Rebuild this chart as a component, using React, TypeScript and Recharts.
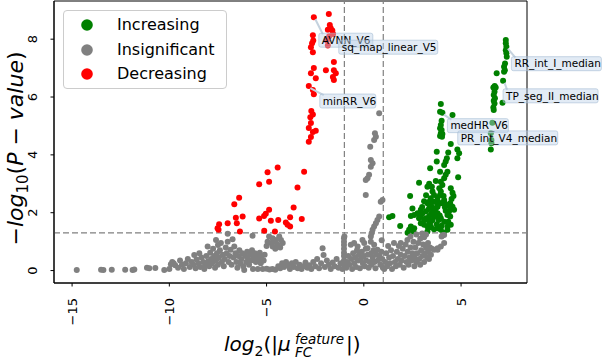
import React from 'react';
import { ScatterChart, Scatter, XAxis, YAxis, ReferenceLine, ReferenceArea, ReferenceDot, Legend } from 'recharts';

// ---------- data (log2 fold change, -log10 p-value) ----------
const increasingPoints: [number, number][] = [
  [7.30,7.97],[7.30,7.86],[7.33,7.74],[7.30,7.62],[7.33,7.51],[7.35,7.39],[7.26,7.16],[7.21,7.05],[7.25,6.93],[7.21,6.87],
  [6.83,6.82],[7.16,6.56],[6.73,6.38],[6.78,6.33],[6.66,6.33],[6.72,6.18],[6.68,6.07],[6.74,5.96],[6.68,5.87],[6.72,5.78],
  [6.66,5.64],[6.68,5.55],[7.13,5.80],[6.61,5.11],[6.53,4.75],[6.56,4.51],[6.56,4.40],[6.53,4.19],
  [3.96,5.76],[3.92,5.49],[4.04,5.46],[4.56,5.38],[4.00,5.18],[3.96,5.03],[3.92,4.92],[4.00,4.86],[3.96,4.75],[3.92,4.65],
  [4.02,4.63],[4.04,4.72],[4.47,4.38],[4.81,4.19],[4.90,4.06],[4.81,3.88],[3.75,4.11],[4.34,4.08],[4.27,3.88],[4.21,3.77],
  [4.13,3.65],[3.75,3.77],[3.41,3.54],[3.92,3.42],[4.30,3.42],[4.21,3.31],[4.13,3.19],[4.85,3.23],[2.84,3.04],[3.36,3.00],
  [3.27,2.90],[3.96,3.07],[4.04,2.96],[3.88,2.85],[3.96,2.73],[3.92,2.61],[3.79,2.53],[4.47,2.85],[4.56,2.69],[4.61,2.58],
  [4.51,2.47],[4.44,2.33],[2.38,2.58],[3.53,2.73],[3.61,2.61],[3.44,2.50],[3.36,2.38],[4.10,2.58],[4.13,2.44],[4.04,2.33],
  [4.17,2.19],[4.21,2.07],[4.30,1.92],[3.79,2.27],[3.70,2.15],[3.58,2.07],[3.48,1.98],[3.36,1.89],[3.27,1.78],[2.50,2.15],
  [2.42,1.89],[2.93,2.10],[3.02,1.98],[2.84,1.81],[3.10,1.75],[4.38,2.04],[4.44,1.87],[4.34,1.69],[4.47,1.58],[1.47,1.89],
  [1.30,1.84],[1.87,1.54],[2.42,1.52],[2.59,1.46],[2.33,1.41],[2.55,1.35],[2.25,1.31],[2.93,1.64],[3.10,1.58],[3.27,1.52],
  [3.44,1.50],[3.61,1.43],[3.79,1.46],[3.96,1.41],[3.36,1.69],[3.53,1.75],[3.19,1.81],[3.70,1.87],[4.30,1.41],[4.10,1.31],
  [3.27,2.33],[3.44,2.27],[3.61,2.38],[3.79,2.21],[3.96,2.33],[4.13,2.38],[4.30,2.27],[4.47,2.15],[4.56,2.21],[4.64,2.10],
  [2.93,1.87],[3.44,1.52],[3.61,1.87],[3.79,1.98],[3.96,1.81],[4.13,1.69],[4.30,1.52],[3.27,1.35],[2.59,1.92],[2.76,1.98],
  [3.10,2.40],[3.20,2.60],[3.50,2.90],[3.70,3.10],[3.80,2.40],[3.65,2.00],[3.90,1.90],[3.50,2.20],[3.00,2.20],[3.20,2.05],
  [3.35,2.15],[3.45,1.70],[3.75,1.60],[4.00,1.55],[3.85,1.75],
];

const insignificantPoints: [number, number][] = [
  [-14.76,0.02],[-13.51,0.03],[-13.39,0.02],[-12.96,0.03],[-12.27,0.03],[-11.89,0.02],[-11.80,0.04],[-11.15,0.10],[-11.03,0.08],
  [-10.72,0.09],[-10.26,0.02],[-9.92,0.22],[-9.78,0.25],
  [-10.00,0.05],[-9.85,0.30],[-9.70,0.18],[-9.55,0.10],[-9.45,0.35],[-9.35,0.20],[-9.25,0.05],[-9.15,0.25],[-9.05,0.40],
  [-8.95,0.12],[-8.85,0.30],[-8.75,0.20],[-8.72,0.54],[-8.65,0.08],[-8.60,0.38],[-8.50,0.25],[-8.46,0.60],[-8.40,0.12],
  [-8.35,0.45],[-8.25,0.30],[-8.20,0.05],[-8.15,0.20],[-8.10,0.50],[-8.03,0.83],[-8.00,0.32],[-7.95,0.15],[-7.90,0.62],
  [-7.85,0.40],[-7.80,0.25],[-7.75,0.75],[-7.70,0.50],[-7.65,0.10],[-7.60,1.06],[-7.60,0.35],[-7.55,0.60],[-7.50,0.88],
  [-7.50,0.20],[-7.45,0.45],[-7.40,0.70],[-7.35,0.95],[-7.30,0.30],[-7.25,0.55],[-7.20,0.15],[-7.15,0.40],[-7.10,0.80],
  [-7.05,0.60],[-7.00,1.27],[-7.00,1.00],[-6.95,0.30],[-6.90,0.50],[-6.85,0.72],[-6.80,0.20],[-6.75,1.08],[-6.70,0.45],
  [-6.66,0.83],[-6.60,0.60],[-6.55,0.30],[-6.50,0.10],[-6.45,0.50],[-6.40,0.70],[-6.35,0.25],[-6.30,0.40],[-6.25,0.60],
  [-6.20,0.15],[-6.15,0.02],[-6.10,0.50],[-6.05,0.30],[-6.00,0.65],[-5.95,0.40],[-5.90,0.20],[-5.85,0.55],[-5.80,0.35],
  [-5.75,0.70],[-5.72,1.20],[-5.70,0.05],[-5.65,0.45],[-5.60,0.60],[-5.55,0.30],[-5.50,0.50],[-5.45,0.05],[-5.40,0.40],
  [-5.35,0.62],[-5.30,0.25],[-5.25,0.50],[-5.20,0.05],[-5.15,0.35],[-5.10,0.55],
  [-4.95,1.00],[-4.87,1.18],[-4.78,0.95],[-4.69,1.12],[-4.69,0.83],[-4.60,1.00],[-4.52,1.06],[-4.43,0.89],[-4.35,1.18],
  [-4.26,1.06],[-4.17,0.95],[-4.30,0.80],[-5.00,0.85],[-4.55,0.75],
  [-5.00,0.06],[-4.85,0.04],[-4.70,0.05],[-4.55,0.03],[-4.40,0.15],[-4.30,0.08],[-4.20,0.25],[-4.10,0.12],[-4.00,0.30],
  [-3.90,0.18],[-3.80,0.05],[-3.70,0.25],[-3.60,0.12],[-3.50,0.30],[-3.40,0.08],[-3.30,0.20],[-3.20,0.05],[-3.10,0.15],
  [-3.00,0.28],[-2.90,0.10],[-2.80,0.18],
  [-2.70,0.05],[-2.60,0.30],[-2.50,0.15],[-2.40,0.40],[-2.30,0.08],[-2.20,0.25],[-2.12,0.77],[-2.07,0.54],[-2.00,0.12],
  [-1.90,0.35],[-1.80,0.20],[-1.70,0.05],[-1.60,0.28],[-1.50,0.15],[-1.40,0.40],[-1.30,0.10],[-1.20,0.25],[-1.10,0.05],
  [-1.02,0.20],[-1.02,0.35],[-1.02,0.50],[-1.02,0.62],[-1.02,0.75],[-1.02,0.88],[-1.02,1.00],[-1.02,1.12],[-1.00,1.18],
  [-0.90,0.10],[-0.85,0.30],[-0.80,0.50],[-0.75,0.20],[-0.67,0.89],[-0.65,0.40],[-0.60,0.05],[-0.55,0.60],[-0.50,0.95],
  [-0.50,0.25],[-0.45,0.45],[-0.40,0.12],[-0.35,0.70],[-0.32,0.83],[-0.30,0.35],[-0.25,0.55],[-0.20,0.08],[-0.15,0.40],
  [-0.10,0.65],[-0.07,1.06],[-0.05,0.25],[0.00,0.50],[0.02,0.95],[0.05,0.15],[0.10,0.75],[0.12,0.35],[0.19,0.77],[0.20,0.55],
  [0.25,0.10],[0.30,0.30],[0.36,1.00],[0.38,0.60],[0.40,0.20],[0.45,0.45],[0.50,0.70],[0.53,0.89],[0.55,0.30],[0.60,0.08],
  [0.65,0.55],[0.70,0.72],[0.72,0.35],[0.80,0.50],[0.85,0.20],[0.90,0.65],[0.95,0.40],[0.98,0.10],
  [0.36,1.18],[0.40,1.29],[0.45,1.41],[0.53,1.52],[0.62,1.64],[0.70,1.75],[0.79,1.87],[0.87,2.38],[0.96,2.44],[0.92,1.05],
  [0.10,2.61],[0.10,3.13],[0.19,3.19],[0.27,3.31],[0.36,3.59],[0.45,3.71],[0.36,3.82],[0.33,4.28],[0.53,4.51],[0.62,4.63],
  [0.57,4.75],[0.79,5.44],
  [1.05,0.05],[1.10,0.30],[1.15,0.60],[1.20,0.15],[1.25,0.85],[1.30,0.45],[1.35,0.25],[1.40,0.70],[1.45,0.05],[1.50,0.50],
  [1.55,0.95],[1.60,0.30],[1.65,0.15],[1.70,0.65],[1.75,0.40],[1.80,0.85],[1.85,0.20],[1.90,0.95],[1.90,0.55],[1.95,0.35],
  [2.00,0.75],[2.05,0.10],[2.10,0.50],[2.15,0.90],[2.20,0.30],[2.24,1.06],[2.25,0.65],[2.30,0.20],[2.35,0.45],[2.40,1.18],
  [2.40,0.80],[2.45,0.35],[2.50,0.60],[2.55,1.00],[2.60,0.15],[2.60,0.45],[2.65,0.80],[2.70,1.25],[2.70,0.30],[2.75,0.60],
  [2.80,0.95],[2.85,0.40],[2.90,1.10],[2.90,0.20],[2.95,0.70],[3.00,0.50],[3.00,1.28],[3.05,0.90],[3.10,0.30],[3.10,1.15],
  [3.15,0.60],[3.20,0.80],[3.20,1.25],[3.25,0.45],[3.30,0.95],[3.30,0.65],[3.35,0.40],[3.40,0.80],[3.45,0.55],[3.50,0.75],
  [3.61,0.72],[3.79,0.77],[3.79,0.72],[3.96,0.83],[4.13,0.95],[4.00,1.18],[4.05,1.22],[4.13,1.23],
];

const decreasingPoints: [number, number][] = [
  [-2.57,8.76],[-1.80,8.87],[-1.75,8.49],[-1.70,8.38],[-1.85,8.33],[-1.62,8.30],[-1.58,8.18],[-1.78,8.10],[-1.90,7.95],[-1.85,7.78],
  [-2.62,8.14],[-2.60,7.95],[-2.66,7.86],[-2.72,7.72],[-2.62,7.55],[-1.54,7.21],[-2.57,7.00],[-2.72,6.82],[-2.47,6.65],
  [-1.95,6.93],[-1.54,6.93],[-1.44,6.82],[-1.59,6.69],[-1.54,6.59],[-2.83,6.38],[-2.62,6.24],[-2.57,6.10],
  [-2.70,5.52],[-2.62,5.40],[-2.75,5.30],[-2.72,5.10],[-2.83,4.93],[-2.62,4.79],[-2.47,4.83],[-2.72,4.62],[-2.83,4.45],
  [-4.43,3.56],[-4.95,3.40],[-3.07,3.42],[-5.38,2.98],[-4.87,3.07],[-3.41,2.87],[-6.41,2.52],[-6.66,2.29],[-3.61,2.18],
  [-4.87,2.10],[-5.04,1.96],[-5.13,1.89],[-6.23,1.87],[-6.58,1.83],[-6.53,1.64],[-5.38,1.80],[-3.79,1.84],[-3.19,1.78],
  [-4.40,1.75],[-4.78,1.72],[-4.01,1.66],[-3.92,1.58],[-3.79,1.52],[-7.44,1.60],[-7.52,1.46],[-7.47,1.41],[-7.00,1.64],
  [-6.37,1.35],[-5.12,1.38],[-4.57,1.35],
];

const seriesNames = ['Increasing', 'Insignificant', 'Decreasing'];
const seriesColors = ['#008000', '#808080', '#ff0000'];

const xTicks = [-15, -10, -5, 0, 5];
const yTicks = [0, 2, 4, 6, 8];
const xDomain: [number, number] = [-15.93, 8.39];
const yDomain: [number, number] = [-0.43, 9.32];
const pValueThreshold = 1.3;
const foldChangeThresholds = [-1, 1];

const annotationNames = ['AVNN_V6', 'sq_map_linear_V5', 'minRR_V6', 'RR_int_I_median', 'TP_seg_II_median', 'medHR_V6', 'PR_int_V4_median'];
const annotationX = [-2.57, -1.70, -2.83, 7.33, 7.16, 4.04, 4.47];
const annotationY = [8.76, 8.38, 6.38, 7.74, 6.56, 5.46, 4.38];

// ---------- styles ----------
const FONT = 'DejaVu Sans, sans-serif';
const annotationLayout: Record<string, { dx: number; dy: number; w: number; pointer: boolean }> = {
  AVNN_V6: { dx: 5, dy: 16, w: 54, pointer: true },
  sq_map_linear_V5: { dx: 8, dy: 12, w: 99, pointer: false },
  minRR_V6: { dx: 11, dy: 8, w: 56, pointer: true },
  RR_int_I_median: { dx: 5, dy: 10, w: 90, pointer: true },
  TP_seg_II_median: { dx: 0, dy: 8, w: 95, pointer: true },
  medHR_V6: { dx: 5, dy: 6, w: 61, pointer: true },
  PR_int_V4_median: { dx: 7, dy: -13, w: 100, pointer: false },
};

const toRows = (pts: [number, number][]) => pts.map(([x, y]) => ({ x, y }));

const fmt = (v: number) => (v < 0 ? '\u2212' + Math.abs(v) : String(v));

const XTick = (props: any) => {
  const { x, payload } = props;
  return (
    <text transform={`translate(${x},298) rotate(-90)`} textAnchor="end" dominantBaseline="central"
      fontSize={13} fontFamily={FONT} fill="#000">{fmt(payload.value)}</text>
  );
};

const YTick = (props: any) => {
  const { y, payload } = props;
  return (
    <text transform={`translate(37,${y}) rotate(-90)`} textAnchor="middle"
      fontSize={13} fontFamily={FONT} fill="#000">{fmt(payload.value)}</text>
  );
};

const XLabel = () => (
  <g fontFamily={FONT} fill="#000">
    <text x={224} y={351} fontSize={20}>
      <tspan fontStyle="italic">log</tspan>
      <tspan fontSize={14} dy={5}>2</tspan>
      <tspan dy={-5}>(|</tspan>
      <tspan fontStyle="italic">μ</tspan>
    </text>
    <text x={295} y={344} fontSize={13.5} fontStyle="italic">feature</text>
    <text x={295} y={357} fontSize={13.5} fontStyle="italic">FC</text>
    <text x={346} y={351} fontSize={20}>|)</text>
  </g>
);

const YLabel = () => (
  <text transform="translate(23,148.5) rotate(-90)" textAnchor="middle" fontSize={22} fontFamily={FONT} fill="#000">
    <tspan>{'\u2212'}</tspan>
    <tspan fontStyle="italic">log</tspan>
    <tspan fontSize={15} dy={5}>10</tspan>
    <tspan dy={-5}>(</tspan>
    <tspan fontStyle="italic">P</tspan>
    <tspan>{' \u2212 '}</tspan>
    <tspan fontStyle="italic">value</tspan>
    <tspan>)</tspan>
  </text>
);

const makeDot = (color: string) => (p: any) => <circle cx={p.cx} cy={p.cy} r={3} fill={color} />;

const makeAnnotation = (label: string) => (p: any) => {
  const { cx, cy } = p;
  const s = annotationLayout[label];
  const bx = cx + s.dx;
  const by = cy + s.dy;
  return (
    <g>
      {s.pointer && (
        <line x1={cx + 1.5} y1={cy + 2} x2={bx + 4} y2={by + 1} stroke="#c5d2de" strokeWidth={2} />
      )}
      <rect x={bx} y={by} width={s.w} height={14} rx={2} fill="rgba(190,210,232,0.45)" stroke="rgba(165,188,212,0.6)" strokeWidth={1} />
      <text x={bx + 3} y={by + 10.8} fontSize={10.5} fontFamily={FONT} fill="#000">{label}</text>
    </g>
  );
};

const LegendBox = () => (
  <div style={{
    width: 164, height: 79, boxSizing: 'border-box', border: '1px solid #cccccc', borderRadius: 4,
    background: 'rgba(255,255,255,0.85)', fontFamily: FONT, fontSize: 16, color: '#000', position: 'relative',
  }}>
    {seriesNames.map((n, i) => (
      <div key={n} style={{ position: 'absolute', left: 0, top: 3 + i * 24.5, height: 22, width: '100%' }}>
        <svg width={24} height={22} style={{ position: 'absolute', left: 11, top: 0 }}>
          <circle cx={12} cy={11} r={5.8} fill={seriesColors[i]} />
        </svg>
        <span style={{ position: 'absolute', left: 53, top: 1, lineHeight: '20px', whiteSpace: 'nowrap' }}>{n}</span>
      </div>
    ))}
  </div>
);

export default function App() {
  const seriesData = [increasingPoints, insignificantPoints, decreasingPoints];
  return (
    <div style={{ position: 'absolute', left: 0, top: 0, width: 602, height: 360, background: '#fff' }}>
      <ScatterChart width={602} height={360} margin={{ top: 1, right: 75, bottom: 0, left: 0 }}>
        <XAxis type="number" dataKey="x" domain={xDomain} ticks={xTicks} allowDataOverflow interval={0}
          height={77} tick={<XTick />} tickSize={3.5} tickLine={{ stroke: '#000' }} axisLine={{ stroke: '#000' }}
          label={<XLabel />} />
        <YAxis type="number" dataKey="y" domain={yDomain} ticks={yTicks} allowDataOverflow interval={0}
          width={54} tick={<YTick />} tickSize={3.5} tickLine={{ stroke: '#000' }} axisLine={{ stroke: '#000' }}
          label={<YLabel />} />
        <ReferenceArea x1={xDomain[0]} x2={xDomain[1]} y1={yDomain[0]} y2={yDomain[1]} fill="none" fillOpacity={0}
          stroke="#000" strokeWidth={1} />
        {seriesData.map((pts, i) => (
          <Scatter key={seriesNames[i]} name={seriesNames[i]} data={toRows(pts)} fill={seriesColors[i]}
            shape={makeDot(seriesColors[i])} isAnimationActive={false} />
        ))}
        <ReferenceLine y={pValueThreshold} stroke="#808080" strokeWidth={1.2} strokeDasharray="6 3" />
        {foldChangeThresholds.map((t) => (
          <ReferenceLine key={t} x={t} stroke="#808080" strokeWidth={1.2} strokeDasharray="6 3" />
        ))}
        {annotationNames.map((label, i) => (
          <ReferenceDot key={label} x={annotationX[i]} y={annotationY[i]} r={0} shape={makeAnnotation(label)} />
        ))}
        <Legend content={<LegendBox />} layout="horizontal" verticalAlign="middle" align="center"
          wrapperStyle={{ left: 63, top: 10, width: 164, height: 79 }} />
      </ScatterChart>
    </div>
  );
}
